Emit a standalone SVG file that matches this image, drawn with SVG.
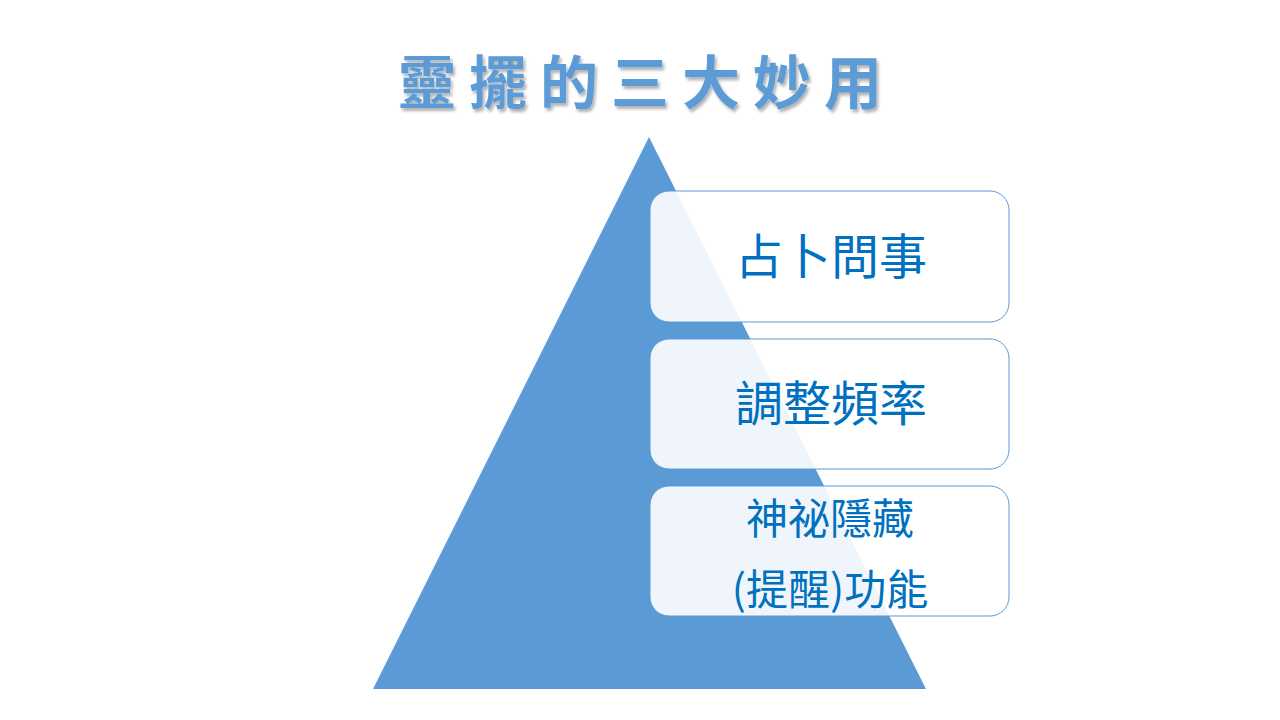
<svg xmlns="http://www.w3.org/2000/svg" width="1280" height="720" viewBox="0 0 1280 720">
<defs>
<filter id="sh" x="-10%" y="-30%" width="120%" height="160%">
<feDropShadow dx="2" dy="3" stdDeviation="1.5" flood-color="#000" flood-opacity="0.3"/>
</filter>
<style>
.title{font-family:"Noto Sans CJK TC","Noto Sans CJK SC",sans-serif;font-size:58px;font-weight:bold;fill:#5B9BD5;letter-spacing:13px}
.box{fill:#FFFFFF;fill-opacity:0.9;stroke:#5B9BD5;stroke-width:1}
.lbl{font-family:"Noto Sans CJK TC","Noto Sans CJK SC",sans-serif;fill:#0070C0;text-anchor:middle}
</style>
</defs>
<rect width="1280" height="720" fill="#FFFFFF"/>
<text class="title" x="398" y="104" filter="url(#sh)">靈擺的三大妙用</text>
<g id="pyramid"><polygon points="649,137 926,689 373,689" fill="#5B9BD5"/></g>
<g id="connectors"></g>
<g id="node1"><rect class="box" x="650" y="191" width="359" height="131" rx="19"/><text class="lbl" x="831" y="274" font-size="48">占卜問事</text></g>
<g id="node2"><rect class="box" x="650" y="339" width="359" height="130" rx="19"/><text class="lbl" x="831" y="421" font-size="48">調整頻率</text></g>
<g id="node3"><rect class="box" x="650" y="486" width="359" height="130" rx="19"/><text class="lbl" x="830" y="534" font-size="42">神祕隱藏</text><text class="lbl" x="830" y="605" font-size="42">(提醒)功能</text></g>
</svg>
